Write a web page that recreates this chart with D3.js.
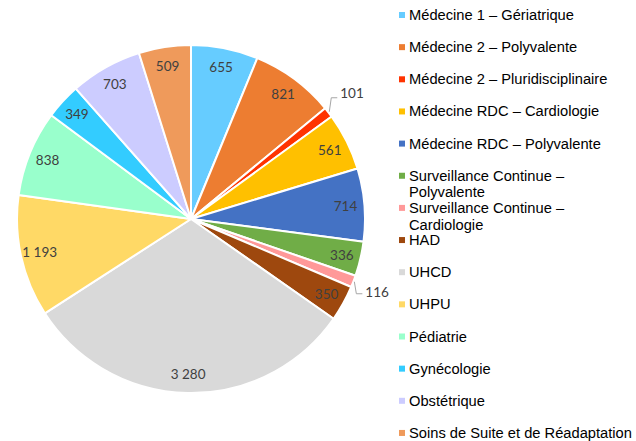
<!DOCTYPE html>
<html>
<head>
<meta charset="utf-8">
<script src="https://cdn.jsdelivr.net/npm/d3@7"></script>
<style>
  html, body { margin: 0; padding: 0; background: #fff; }
  svg { display: block; }
</style>
</head>
<body>
<svg id="chart" width="636" height="441"></svg>
<script>
const categories = [
  "Médecine 1 – Gériatrique",
  "Médecine 2 – Polyvalente",
  "Médecine 2 – Pluridisciplinaire",
  "Médecine RDC – Cardiologie",
  "Médecine RDC – Polyvalente",
  "Surveillance Continue – Polyvalente",
  "Surveillance Continue – Cardiologie",
  "HAD",
  "UHCD",
  "UHPU",
  "Pédiatrie",
  "Gynécologie",
  "Obstétrique",
  "Soins de Suite et de Réadaptation"
];
const values = [655, 821, 101, 561, 714, 336, 116, 350, 3280, 1193, 838, 349, 703, 509];
const colors = [
  "#66CCFF", "#ED7D31", "#FF3300", "#FFC000", "#4472C4", "#70AD47", "#FF9999",
  "#9E480E", "#D9D9D9", "#FFD966", "#99FFCC", "#33CCFF", "#CCCCFF", "#EF9A5B"
];

const W = 636, H = 441;
const cx = 191, cy = 219, R = 174;
const svg = d3.select("#chart");

const fr = d3.formatLocale({decimal: ",", thousands: "\u00a0", grouping: [3], currency: ["", " €"]});
const fmt = fr.format(",d");

const data = categories.map((c, i) => ({name: c, value: values[i], color: colors[i]}));
const total = d3.sum(values);
const pie = d3.pie().sort(null).value(d => d.value).startAngle(0).endAngle(2 * Math.PI);
const arcs = pie(data);
const arc = d3.arc().innerRadius(0).outerRadius(R);

const g = svg.append("g").attr("transform", `translate(${cx},${cy})`);
g.selectAll("path.slice").data(arcs).join("path")
  .attr("class", "slice")
  .attr("d", arc)
  .attr("fill", d => d.data.color)
  .attr("stroke", "#fff")
  .attr("stroke-width", 2)
  .attr("stroke-linejoin", "round");

const labelFont = "Lato, 'Open Sans', sans-serif";
const labelSize = 13.5;
const labelR = 155;
const smallThreshold = 0.015;

arcs.forEach(d => {
  const mid = (d.startAngle + d.endAngle) / 2;
  const sx = Math.sin(mid), sy = -Math.cos(mid);
  if (d.data.value / total >= smallThreshold) {
    g.append("text")
      .attr("x", labelR * sx)
      .attr("y", labelR * sy)
      .attr("text-anchor", "middle")
      .attr("dominant-baseline", "central")
      .attr("font-family", labelFont)
      .attr("font-size", labelSize)
      .attr("fill", "#404040")
      .text(fmt(d.data.value));
  } else {
    const p0 = [(R + 1) * sx, (R + 1) * sy];
    const up = sy < 0;
    const elbow = [p0[0] + 2, p0[1] + (up ? -14 : 12)];
    const end = [elbow[0] + 6, elbow[1]];
    g.append("path")
      .attr("d", d3.line()([p0, elbow, end]))
      .attr("fill", "none")
      .attr("stroke", "#A6A6A6")
      .attr("stroke-width", 1);
    g.append("text")
      .attr("x", end[0] + 3)
      .attr("y", elbow[1] + (up ? -5 : -2))
      .attr("dominant-baseline", "central")
      .attr("font-family", labelFont)
      .attr("font-size", labelSize)
      .attr("fill", "#404040")
      .text(fmt(d.data.value));
  }
});

// Legend
const legX = 399, legTextX = 409, legY0 = 15, legStep = 32.15, legLine = 16.6, legMaxW = 226;
const legFont = "'Liberation Sans', Arial, sans-serif";
const leg = svg.append("g");
data.forEach((d, i) => {
  const y = legY0 + i * legStep;
  leg.append("rect")
    .attr("x", legX).attr("y", y - 3)
    .attr("width", 6).attr("height", 6)
    .attr("fill", d.color);
  const t = leg.append("text")
    .attr("x", legTextX)
    .attr("y", y)
    .attr("dominant-baseline", "central")
    .attr("font-family", legFont)
    .attr("font-size", 14.7)
    .attr("fill", "#000");
  const words = d.name.split(" ");
  let line = [];
  let lineNo = 0;
  let tspan = t.append("tspan").attr("x", legTextX).attr("y", y);
  words.forEach(w => {
    line.push(w);
    tspan.text(line.join(" "));
    if (tspan.node().getComputedTextLength() > legMaxW && line.length > 1) {
      line.pop();
      tspan.text(line.join(" "));
      line = [w];
      lineNo++;
      tspan = t.append("tspan").attr("x", legTextX).attr("y", y + lineNo * legLine).text(w);
    }
  });
});
</script>
</body>
</html>
